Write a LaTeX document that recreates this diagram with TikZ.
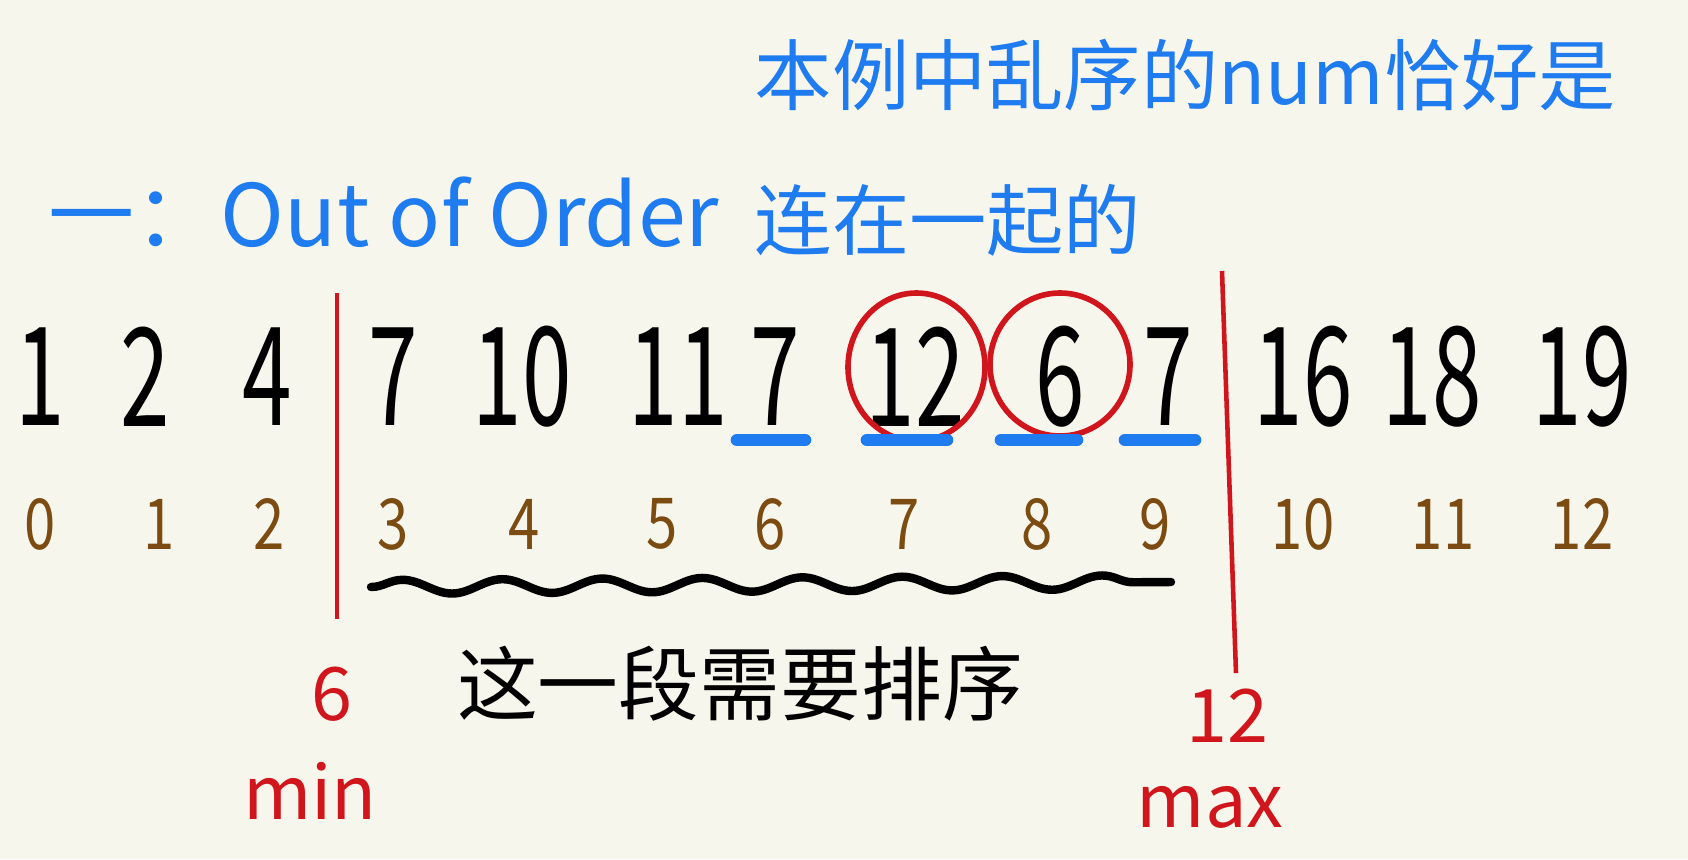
\documentclass[tikz,border=0pt]{standalone}
\usepackage{fontspec}
\setmainfont{Noto Sans CJK SC}
\usetikzlibrary{decorations.pathmorphing,shapes.geometric}
\definecolor{inkblue}{HTML}{1E7BF0}
\definecolor{inkred}{HTML}{D0161C}
\definecolor{inkbrown}{HTML}{7B4B12}
\definecolor{paper}{HTML}{F7F6EC}

\begin{document}
\begin{tikzpicture}[inner sep=0pt,
 note/.style={text=inkblue,font=\fontsize{22}{26}\selectfont},
 num/.style={font=\fontsize{39}{44}\selectfont,xscale=0.65},
 idx/.style={text=inkbrown,font=\fontsize{20}{24}\selectfont,xscale=0.8},
 lbl/.style={text=inkred,font=\fontsize{21}{25}\selectfont},
 ring/.style={draw=inkred,line width=1.6pt,ellipse},
 bar/.style={draw=inkred,line width=1.3pt},
 uline/.style={draw=inkblue,line width=3.6pt,line cap=round},
 wave/.style={draw=black,line width=2.4pt,line cap=round,decorate,decoration={snake,amplitude=0.7mm,segment length=1cm}}]
\fill[paper] (0,0) rectangle (16.88,-8.59);
\useasboundingbox (0,0) rectangle (16.88,-8.59);
% notes
\node[note,anchor=west] (head) at (7.54,-0.75) {本例中乱序的num恰好是};
\node[note,anchor=west,font=\fontsize{24.5}{28}\selectfont] (title) at (0.48,-2.12) {一：Out of Order};
\node[note,anchor=west] (tail) at (7.54,-2.20) {连在一起的};
% values and indices
\foreach \x/\v [count=\i from 0] in {0.40/1,1.45/2,2.67/4,3.93/7,5.22/10,6.78/11,7.75/7,9.15/12,10.60/6,11.68/7,13.03/16,14.32/18,15.82/19}
  \node[num] (v\i) at (\x,-3.77) {\v};
\foreach \x [count=\i from 0] in {0.40,1.59,2.69,3.93,5.24,6.62,7.70,9.04,10.37,11.55,13.03,14.43,15.82}
  \node[idx] (k\i) at (\x,-5.24) {\i};
% the two out of place values
\node[ring,minimum width=1.37cm,minimum height=1.48cm] (r12) at (9.165,-3.67) {};
\node[ring,minimum width=1.40cm,minimum height=1.43cm] (r6) at (10.60,-3.645) {};
\foreach \a/\b [count=\j] in {7.37/8.05,8.67/9.47,10.01/10.77,11.25/11.95} {
  \coordinate (ua\j) at (\a,-4.40); \coordinate (ub\j) at (\b,-4.40);
  \draw[uline] (ua\j) -- (ub\j);
}
% borders of the part to sort
\coordinate (lotop) at (3.37,-2.93); \coordinate (lobot) at (3.37,-6.19);
\coordinate (hitop) at (12.22,-2.71); \coordinate (hibot) at (12.36,-6.73);
\draw[bar] (lotop) -- (lobot); \draw[bar] (hitop) -- (hibot);
\coordinate (wstart) at (3.71,-5.87); \coordinate (wend) at (11.71,-5.82);
\draw[wave] (wstart) -- (wend);
\node[note,text=black,font=\fontsize{23}{27}\selectfont] (sortnote) at (7.40,-6.84) {这一段需要排序};
\node[lbl] (minval) at (3.32,-6.94) {6};
\node[lbl] (minword) at (3.10,-7.91) {min};
\node[lbl] (maxval) at (12.27,-7.16) {12};
\node[lbl] (maxword) at (12.10,-8.07) {max};
\end{tikzpicture}
\end{document}
